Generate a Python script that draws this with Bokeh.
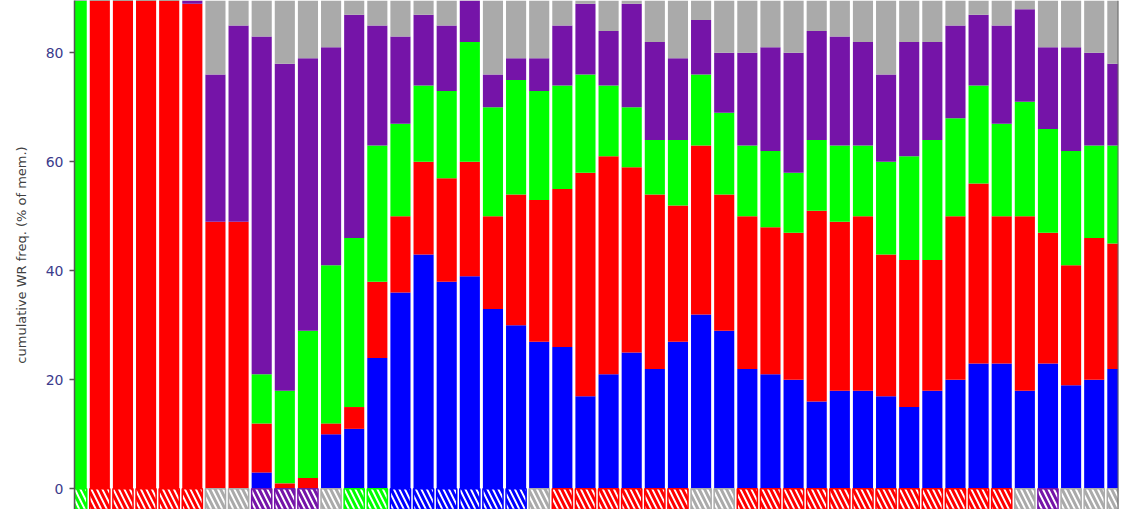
from bokeh.plotting import figure
from bokeh.models import Range1d, FixedTicker, Span
from bokeh.embed import file_html
from bokeh.resources import INLINE

# stacked segment values (% of members), bottom to top
blue   = [0, 0, 0, 0, 0, 0, 0, 0, 3, 0, 0, 10, 11, 24, 36, 43, 38, 39, 33, 30, 27, 26, 17, 21, 25, 22, 27, 32, 29, 22, 21, 20, 16, 18, 18, 17, 15, 18, 20, 23, 23, 18, 23, 19, 20, 22]
red    = [0, 100, 100, 100, 100, 89, 49, 49, 9, 1, 2, 2, 4, 14, 14, 17, 19, 21, 17, 24, 26, 29, 41, 40, 34, 32, 25, 31, 25, 28, 27, 27, 35, 31, 32, 26, 27, 24, 30, 33, 27, 32, 24, 22, 26, 23]
green  = [100, 0, 0, 0, 0, 0, 0, 0, 9, 17, 27, 29, 31, 25, 17, 14, 16, 22, 20, 21, 20, 19, 18, 13, 11, 10, 12, 13, 15, 13, 14, 11, 13, 14, 13, 17, 19, 22, 18, 18, 17, 21, 19, 21, 17, 18]
purple = [0, 0, 0, 0, 0, 11, 27, 36, 62, 60, 50, 40, 41, 22, 16, 13, 12, 11, 6, 4, 6, 11, 13, 10, 19, 18, 15, 10, 11, 17, 19, 22, 20, 20, 19, 16, 21, 18, 17, 13, 18, 17, 15, 19, 17, 15]
gray   = [0, 0, 0, 0, 0, 0, 24, 15, 17, 22, 21, 19, 13, 15, 17, 13, 15, 7, 24, 21, 21, 15, 11, 16, 11, 18, 21, 14, 20, 20, 19, 20, 16, 17, 18, 24, 18, 18, 15, 13, 15, 12, 19, 19, 20, 22]

# group marker shown under each bar
group = ["green", "red", "red", "red", "red", "red", "gray", "gray", "purple", "purple", "purple", "gray",
         "green", "green", "blue", "blue", "blue", "blue", "blue", "blue", "gray",
         "red", "red", "red", "red", "red", "red", "gray", "gray",
         "red", "red", "red", "red", "red", "red", "red", "red", "red", "red", "red", "red",
         "gray", "purple", "gray", "gray", "gray"]

y_ticks = [0, 20, 40, 60, 80]

palette = {"blue": "#0000ff", "red": "#ff0000", "green": "#00ff00", "purple": "#7514a8", "gray": "#aaaaaa"}

n = len(blue)
xs = list(range(n))
data = dict(x=xs, blue=blue, red=red, green=green, purple=purple, gray=gray,
            mcolor=[palette[g] for g in group],
            mtop=[0] * n, mbottom=[-8] * n)

x_start, x_end = -0.095, n - 1 + 0.05
p = figure(width=1124, height=509, output_backend="svg", toolbar_location=None,
           x_range=Range1d(x_start, x_end), y_range=Range1d(-3.8, 89.6),
           min_border_left=74, min_border_right=6, min_border_top=0, min_border_bottom=0)

p.vbar_stack(["blue", "red", "green", "purple", "gray"], x="x", width=0.87, source=data,
             color=[palette[k] for k in ["blue", "red", "green", "purple", "gray"]], line_color=None)

# group markers: white box with coloured diagonal hatching
p.vbar(x="x", top="mtop", bottom="mbottom", width=0.87, source=data,
       fill_color="white", line_color="mcolor", line_width=1.5,
       hatch_pattern="\\", hatch_color="mcolor", hatch_weight=3, hatch_scale=11)

p.add_layout(Span(location=x_end, dimension="height", line_color="#666666", line_width=2))

p.xaxis.visible = False
p.xgrid.visible = False
p.ygrid.visible = False
p.outline_line_color = None
p.background_fill_color = "white"

ya = p.yaxis[0]
ya.ticker = FixedTicker(ticks=y_ticks)
ya.axis_label = "cumulative WR freq. (% of mem.)"
ya.axis_label_text_font = "DejaVu Sans"
ya.axis_label_text_font_size = "13px"
ya.axis_label_text_font_style = "normal"
ya.axis_label_text_color = "#404040"
ya.axis_label_standoff = 14
ya.major_label_text_font = "DejaVu Sans"
ya.major_label_text_font_size = "14px"
ya.major_label_text_color = "#3b3b8c"
ya.major_label_standoff = 6
ya.axis_line_color = "#555555"
ya.axis_line_width = 1.5
ya.major_tick_line_color = "#555555"
ya.major_tick_line_width = 1.5
ya.major_tick_out = 5
ya.major_tick_in = 0
ya.minor_tick_line_color = None

open("out.html", "w").write(file_html(p, INLINE))
